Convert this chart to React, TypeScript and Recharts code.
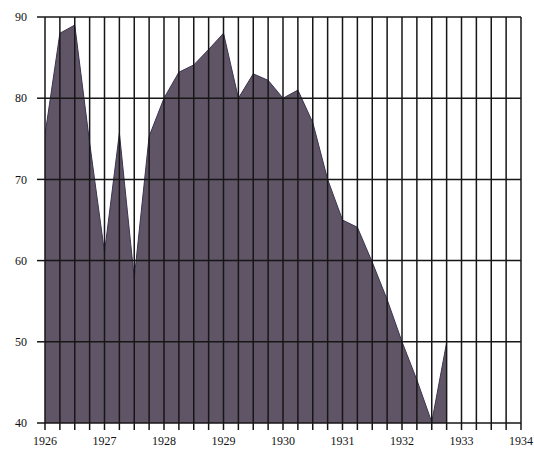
import React from 'react';
import { AreaChart, Area, XAxis, YAxis, ReferenceLine } from 'recharts';

const quarters: number[] = [
  1926, 1926.25, 1926.5, 1926.75,
  1927, 1927.25, 1927.5, 1927.75,
  1928, 1928.25, 1928.5, 1928.75,
  1929, 1929.25, 1929.5, 1929.75,
  1930, 1930.25, 1930.5, 1930.75,
  1931, 1931.25, 1931.5, 1931.75,
  1932, 1932.25, 1932.5, 1932.75,
];
const values: number[] = [
  75.5, 88, 89, 74.5,
  61, 75.7, 57.8, 75.3,
  80, 83.2, 84.1, 86,
  88, 80, 83, 82.2,
  80, 81, 77, 70,
  65, 64.1, 59.8, 55.2,
  50, 45.3, 40.1, 49.9,
];
const yearTicks: number[] = [1926, 1927, 1928, 1929, 1930, 1931, 1932, 1933, 1934];
const yTicks: number[] = [40, 50, 60, 70, 80, 90];
const gridX: number[] = [];
for (let y = 1926; y <= 1934; y += 0.25) gridX.push(y);

const data = quarters.map((t, i) => ({ t, v: values[i] }));

const LINE = '#161616';
const FONT = "'Liberation Serif', serif";

export default function App() {
  return (
    <div style={{ position: 'absolute', left: 0, top: 0, background: '#fff' }}>
      <AreaChart width={534} height={449} data={data} margin={{ top: 17, right: 13, left: 0, bottom: 0 }}>
        <XAxis
          dataKey="t"
          type="number"
          domain={[1926, 1934]}
          ticks={gridX}
          interval={0}
          tickFormatter={(v: number) => (yearTicks.includes(v) ? String(v) : '')}
          height={26}
          axisLine={false}
          tickLine={{ stroke: LINE, strokeWidth: 1.5 }}
          tickSize={7}
          tickMargin={6}
          tick={{ fill: '#111', fontSize: 12, fontFamily: FONT }}
          allowDataOverflow
        />
        <YAxis
          type="number"
          domain={[40, 90]}
          ticks={yTicks}
          interval={0}
          width={45}
          axisLine={false}
          tickLine={{ stroke: LINE, strokeWidth: 1.5 }}
          tickSize={8}
          tickMargin={10}
          tick={{ fill: '#111', fontSize: 12, fontFamily: FONT }}
          allowDataOverflow
        />
        <Area
          type="linear"
          dataKey="v"
          fill="#605566"
          fillOpacity={1}
          stroke="#3b3450"
          strokeWidth={1}
          isAnimationActive={false}
          dot={false}
          activeDot={false}
        />
        {gridX.map((x) => (
          <ReferenceLine key={'x' + x} x={x} stroke={LINE} strokeWidth={1.5} />
        ))}
        {yTicks.map((y) => (
          <ReferenceLine key={'y' + y} y={y} stroke={LINE} strokeWidth={1.5} />
        ))}
      </AreaChart>
    </div>
  );
}
